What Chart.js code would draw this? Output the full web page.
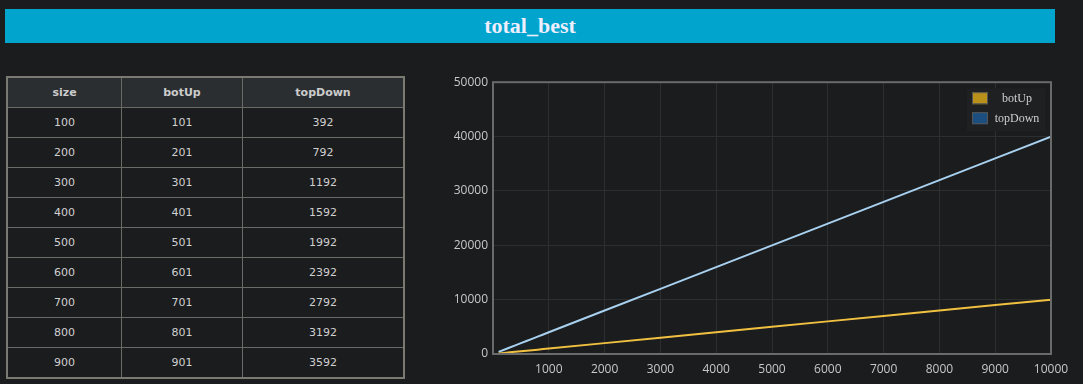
<!DOCTYPE html>
<html><head><meta charset="utf-8">
<script src="https://cdn.jsdelivr.net/npm/chart.js@4/dist/chart.umd.min.js"></script>
<style>
html,body{margin:0;padding:0;background:#1b1c1e;width:1083px;height:384px;overflow:hidden;}
#title{position:absolute;left:5px;top:9px;width:1050px;height:34px;background:#00a4cc;color:#eef;text-align:center;font:bold 22px "Liberation Serif",serif;line-height:34px;}
#tbl{position:absolute;left:6px;top:76px;border-collapse:collapse;border:2px solid #7a7a72;font:11px "DejaVu Sans",sans-serif;color:#d0d0d0;}
#tbl th,#tbl td{border:1px solid #6a6a66;text-align:center;height:29px;padding:0;}
#tbl th{background:#2b2e31;font-weight:bold;color:#ccc;}
#tbl td{background:#1b1c1e;}
#wrap{position:absolute;left:430px;top:70px;width:653px;height:314px;}
</style></head><body>
<div id="title">total_best</div>
<table id="tbl"></table>
<div id="wrap"><canvas id="c" width="653" height="314"></canvas></div>
<script>
const tableSizes = [100,200,300,400,500,600,700,800,900];
const tableBotUp = [101,201,301,401,501,601,701,801,901];
const tableTopDown = [392,792,1192,1592,1992,2392,2792,3192,3592];
const sizes = [100,200,300,400,500,600,700,800,900,1000,2000,3000,4000,5000,6000,7000,8000,9000,10000];
const botUp = [101,201,301,401,501,601,701,801,901,1001,2001,3001,4001,5001,6001,7001,8001,9001,10001];
const topDown = [392,792,1192,1592,1992,2392,2792,3192,3592,3992,7992,11992,15992,19992,23992,27992,31992,35992,39992];
const colWidths = [113,120,160];

const tbl = document.getElementById('tbl');
let h = '<tr>' + ['size','botUp','topDown'].map((t,i)=>`<th style="width:${colWidths[i]}px">${t}</th>`).join('') + '</tr>';
tableSizes.forEach((s,i)=>{ h += `<tr><td>${s}</td><td>${tableBotUp[i]}</td><td>${tableTopDown[i]}</td></tr>`; });
tbl.innerHTML = h;

const frame = {
  id:'frame',
  afterDraw(chart){
    const {ctx, chartArea:a} = chart;
    ctx.save();
    ctx.strokeStyle = '#6a6a6a'; ctx.lineWidth = 2;
    ctx.strokeRect(a.left, a.top, a.right-a.left, a.bottom-a.top);
    const x = a.right - 84, y = a.top + 6, w = 78, hh = 43;
    ctx.fillStyle = '#1f2022';
    ctx.fillRect(x, y, w, hh);
    const items = [{l:'botUp', c:'#b8901a'}, {l:'topDown', c:'#1c4f80'}];
    ctx.font = '12px "Liberation Serif", serif';
    ctx.textBaseline = 'middle';
    items.forEach((it,i)=>{
      const yy = y + 4 + i*20;
      ctx.fillStyle = it.c; ctx.fillRect(x+5, yy, 16, 12);
      ctx.strokeStyle = '#555'; ctx.lineWidth = 1; ctx.strokeRect(x+5.5, yy+0.5, 15, 11);
      ctx.fillStyle = '#cfcfcf';
      ctx.textAlign = 'center';
      ctx.fillText(it.l, x + 50, yy + 7);
    });
    ctx.restore();
  }
};

new Chart(document.getElementById('c'), {
  type:'line',
  data:{ datasets:[
    {label:'botUp', data:sizes.map((s,i)=>({x:s,y:botUp[i]})), borderColor:'#f0c040', borderWidth:2, pointRadius:0, fill:false, tension:0},
    {label:'topDown', data:sizes.map((s,i)=>({x:s,y:topDown[i]})), borderColor:'#a8d0ef', borderWidth:2, pointRadius:0, fill:false, tension:0}
  ]},
  options:{
    responsive:false, animation:false, maintainAspectRatio:false,
    layout:{padding:{top:8,right:32,left:0,bottom:0}},
    plugins:{legend:{display:false}, tooltip:{enabled:false}},
    scales:{
      x:{type:'linear', min:0, max:10000,
        ticks:{stepSize:1000, autoSkip:false, color:'#c8c8c8', font:{family:'"Open Sans", sans-serif', size:12}, padding:8, maxRotation:0,
          callback:(v)=> v===0 ? '' : String(v)},
        grid:{color:'#2c2e30', drawTicks:false}, border:{display:false},
        afterFit:(s)=>{s.height = 30;}},
      y:{min:0, max:50000,
        ticks:{stepSize:10000, color:'#c8c8c8', font:{family:'"Open Sans", sans-serif', size:12}, padding:5,
          callback:(v)=> String(v)},
        grid:{color:'#2c2e30', drawTicks:false}, border:{display:false},
        afterFit:(s)=>{s.width = 63;}}
    }
  },
  plugins:[frame]
});
</script>
</body></html>
